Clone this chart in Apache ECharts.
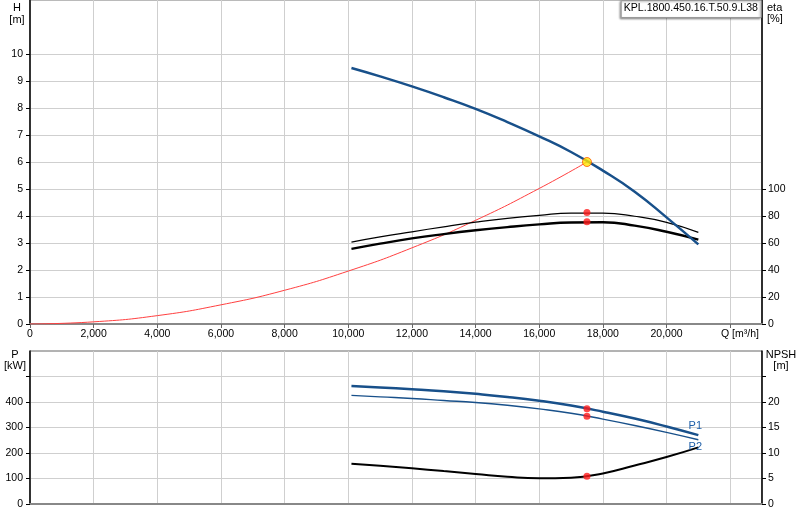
<!DOCTYPE html>
<html>
<head>
<meta charset="utf-8">
<script src="https://cdn.jsdelivr.net/npm/echarts@6/dist/echarts.min.js"></script>
<style>html,body{margin:0;padding:0;background:#fff}#c{width:800px;height:520px}</style>
</head>
<body>
<div id="c"></div>
<script>
// ---- data ----
const qTicks = [0, 2000, 4000, 6000, 8000, 10000, 12000, 14000, 16000, 18000, 20000];
const hTicks = [0, 1, 2, 3, 4, 5, 6, 7, 8, 9, 10];
const etaTicks = [0, 20, 40, 60, 80, 100];
const pTicks = [0, 100, 200, 300, 400];
const npshTicks = [0, 5, 10, 15, 20];

// pump curves, read at every 1000 m³/h
const qPump = [10100, 11000, 12000, 13000, 14000, 15000, 16000, 17000, 18000, 19000, 20000, 21000];
const hVals = [9.48, 9.17, 8.80, 8.40, 7.97, 7.48, 6.95, 6.37, 5.68, 4.90, 3.95, 2.95];
const eta1  = [60.7, 64.5, 68.3, 72.0, 75.4, 78.3, 80.5, 82.1, 82.1, 79.8, 75.3, 67.9];
const eta2  = [55.6, 59.5, 63.4, 66.6, 69.4, 71.8, 73.8, 75.2, 75.4, 72.9, 68.3, 62.5];
const p1    = [463, 457, 450, 442, 432, 420, 405, 386, 362, 335, 304, 270];
const p2    = [426, 420, 414, 406, 398, 387, 373, 356, 333, 308, 281, 252];
const npsh  = [7.9, 7.5, 7.0, 6.45, 5.9, 5.35, 5.05, 5.15, 6.0, 7.55, 9.2, 11.1];

// system curve
const qSys = [0, 2000, 4000, 6000, 8000, 10000, 12000, 14000, 16000, 17500];
const hSys = [0, 0.08, 0.31, 0.71, 1.25, 1.96, 2.82, 3.84, 5.02, 6.0];

// duty point
const dutyQ = 17500;
const dutyH = 6.0;
const dutyEta = [82.6, 75.7];
const dutyP = [374, 344];
const dutyNpsh = 5.43;

const pumpName = 'KPL.1800.450.16.T.50.9.L38';
const curveNames = ['P1', 'P2'];

// ---- helpers ----
const zip = (xs, ys) => xs.map((x, i) => [x, ys[i]]);
const FONT = 'Liberation Sans, Arial, sans-serif';
const BLUE = '#18508a';
const lbl = { color: '#000', fontSize: 10.5, fontFamily: FONT };

function endMark(xs, ys, text, dy) {
  return {
    symbol: 'circle', symbolSize: 0, silent: true,
    label: { show: true, formatter: text, color: '#1f5fa8', fontSize: 11, fontFamily: FONT,
             position: 'inside', offset: [-3, dy] },
    data: [{ coord: [xs[xs.length - 1], ys[ys.length - 1]] }]
  };
}

const xAxisBase = {
  type: 'value', min: 0, max: 23000, interval: 2000,
  splitLine: { show: true, lineStyle: { color: '#cfcfcf', width: 1 } },
  axisLine: { show: true, onZero: false, lineStyle: { color: '#888', width: 2 } },
};

const chart = echarts.init(document.getElementById('c'), null, { renderer: 'canvas' });
chart.setOption({
  animation: false,
  backgroundColor: '#fff',
  title: {
    text: pumpName, right: 39, top: 0,
    padding: [3, 3, 4, 3],
    backgroundColor: '#fff', borderColor: '#999', borderWidth: 1,
    shadowColor: 'rgba(0,0,0,0.35)', shadowOffsetX: -1, shadowOffsetY: 1, shadowBlur: 2,
    textStyle: { fontSize: 10.6, fontWeight: 'normal', color: '#000', fontFamily: FONT }
  },
  grid: [
    { left: 30, right: 38, top: 0, height: 324, show: true, borderColor: '#777', borderWidth: 1 },
    { left: 30, right: 38, top: 351, height: 153, show: true, borderColor: '#666', borderWidth: 1 }
  ],
  xAxis: [
    Object.assign({}, xAxisBase, {
      gridIndex: 0,
      axisTick: { show: true, length: 4, lineStyle: { color: '#666' }, customValues: qTicks.concat([22000]) },
      axisLabel: Object.assign({}, lbl, {
        margin: 5, customValues: qTicks,
        formatter: v => v.toLocaleString('en-US')
      })
    }),
    Object.assign({}, xAxisBase, {
      gridIndex: 1,
      axisTick: { show: false },
      axisLabel: { show: false }
    })
  ],
  yAxis: [
    {
      type: 'value', gridIndex: 0, min: 0, max: 12, interval: 1, position: 'left',
      axisLine: { show: true, lineStyle: { color: '#000', width: 1.5 } },
      axisTick: { show: true, length: 4, lineStyle: { color: '#000' }, customValues: hTicks },
      axisLabel: Object.assign({}, lbl, { margin: 7, customValues: hTicks }),
      splitLine: { show: true, lineStyle: { color: '#cfcfcf', width: 1 } }
    },
    {
      type: 'value', gridIndex: 0, min: 0, max: 240, interval: 20, position: 'right',
      axisLine: { show: true, lineStyle: { color: '#000', width: 1.5 } },
      axisTick: { show: true, length: 4, lineStyle: { color: '#000' }, customValues: etaTicks },
      axisLabel: Object.assign({}, lbl, { margin: 6, customValues: etaTicks }),
      splitLine: { show: false }
    },
    {
      type: 'value', gridIndex: 1, min: 0, max: 600, interval: 100, position: 'left',
      axisLine: { show: true, lineStyle: { color: '#000', width: 1.5 } },
      axisTick: { show: true, length: 4, lineStyle: { color: '#000' }, customValues: pTicks.concat([500]) },
      axisLabel: Object.assign({}, lbl, { margin: 7, customValues: pTicks }),
      splitLine: { show: true, lineStyle: { color: '#cfcfcf', width: 1 } }
    },
    {
      type: 'value', gridIndex: 1, min: 0, max: 30, interval: 5, position: 'right',
      axisLine: { show: true, lineStyle: { color: '#000', width: 1.5 } },
      axisTick: { show: true, length: 4, lineStyle: { color: '#000' }, customValues: npshTicks.concat([25]) },
      axisLabel: Object.assign({}, lbl, { margin: 6, customValues: npshTicks }),
      splitLine: { show: false }
    }
  ],
  graphic: [
    { type: 'text', x: 17, y: 2, style: { text: 'H\n[m]', textAlign: 'center', fill: '#000', font: '11px ' + FONT, lineHeight: 12 } },
    { type: 'text', x: 767, y: 2, style: { text: 'eta\n[%]', textAlign: 'left', fill: '#000', font: '11px ' + FONT, lineHeight: 11 } },
    { type: 'text', x: 15, y: 349, style: { text: 'P\n[kW]', textAlign: 'center', fill: '#000', font: '11px ' + FONT, lineHeight: 11 } },
    { type: 'text', x: 781, y: 349, style: { text: 'NPSH\n[m]', textAlign: 'center', fill: '#000', font: '11px ' + FONT, lineHeight: 11 } },
    { type: 'text', x: 721, y: 329, style: { text: 'Q [m³/h]', textAlign: 'left', fill: '#000', font: '10.5px ' + FONT } }
  ],
  series: [
    { type: 'line', xAxisIndex: 0, yAxisIndex: 0, data: zip(qSys, hSys), smooth: true, showSymbol: false,
      lineStyle: { color: '#ff4040', width: 1 }, z: 2 },
    { type: 'line', xAxisIndex: 0, yAxisIndex: 1, data: zip(qPump, eta1), smooth: true, showSymbol: false,
      lineStyle: { color: '#000', width: 1.2 }, z: 3 },
    { type: 'line', xAxisIndex: 0, yAxisIndex: 1, data: zip(qPump, eta2), smooth: true, showSymbol: false,
      lineStyle: { color: '#000', width: 2.4 }, z: 3 },
    { type: 'line', xAxisIndex: 0, yAxisIndex: 0, data: zip(qPump, hVals), smooth: true, showSymbol: false,
      lineStyle: { color: BLUE, width: 2.5 }, z: 4 },
    { type: 'scatter', xAxisIndex: 0, yAxisIndex: 1, data: dutyEta.map(v => [dutyQ, v]), symbolSize: 7,
      itemStyle: { color: '#ff1a1a' }, z: 6 },
    { type: 'scatter', xAxisIndex: 0, yAxisIndex: 0, data: [[dutyQ, dutyH]], symbolSize: 9,
      itemStyle: { color: '#ffe600', borderColor: '#ff5a00', borderWidth: 1 }, z: 7 },

    { type: 'line', xAxisIndex: 1, yAxisIndex: 2, data: zip(qPump, p1), smooth: true, showSymbol: false,
      lineStyle: { color: BLUE, width: 2.5 }, z: 4, markPoint: endMark(qPump, p1, curveNames[0], -9) },
    { type: 'line', xAxisIndex: 1, yAxisIndex: 2, data: zip(qPump, p2), smooth: true, showSymbol: false,
      lineStyle: { color: BLUE, width: 1.4 }, z: 4, markPoint: endMark(qPump, p2, curveNames[1], 7) },
    { type: 'line', xAxisIndex: 1, yAxisIndex: 3, data: zip(qPump, npsh), smooth: true, showSymbol: false,
      lineStyle: { color: '#000', width: 2 }, z: 3 },
    { type: 'scatter', xAxisIndex: 1, yAxisIndex: 2, data: dutyP.map(v => [dutyQ, v]), symbolSize: 7,
      itemStyle: { color: '#ff1a1a' }, z: 6 },
    { type: 'scatter', xAxisIndex: 1, yAxisIndex: 3, data: [[dutyQ, dutyNpsh]], symbolSize: 7,
      itemStyle: { color: '#ff1a1a' }, z: 6 }
  ]
});
</script>
</body>
</html>
